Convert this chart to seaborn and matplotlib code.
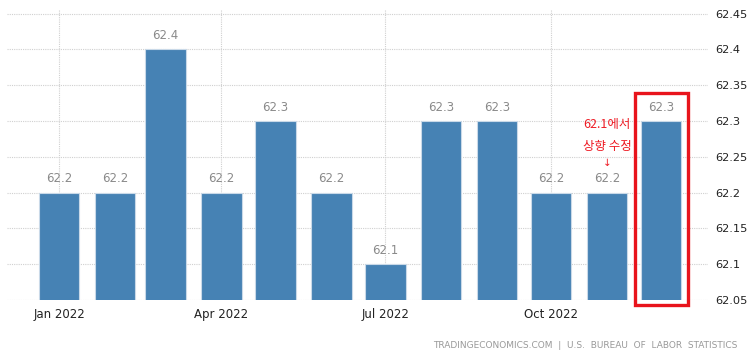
import matplotlib
matplotlib.use("Agg")
import matplotlib.pyplot as plt
import matplotlib.dates as mdates
from matplotlib.patches import Rectangle
import seaborn as sns
import pandas as pd
import datetime as dt

months = ["2022-01-01", "2022-02-01", "2022-03-01", "2022-04-01", "2022-05-01", "2022-06-01",
          "2022-07-01", "2022-08-01", "2022-09-01", "2022-10-01", "2022-11-01", "2022-12-01"]
values = [62.2, 62.2, 62.4, 62.2, 62.3, 62.2, 62.1, 62.3, 62.3, 62.2, 62.2, 62.3]
xtick_dates = ["2022-01-01", "2022-04-01", "2022-07-01", "2022-10-01"]
xtick_labels = ["Jan 2022", "Apr 2022", "Jul 2022", "Oct 2022"]
yticks = [62.05, 62.1, 62.15, 62.2, 62.25, 62.3, 62.35, 62.4, 62.45]
ytick_labels = ["62.05", "62.1", "62.15", "62.2", "62.25", "62.3", "62.35", "62.4", "62.45"]
note_lines = ["62.1에서", "상향 수정"]
footer = "TRADINGECONOMICS.COM  |  U.S.  BUREAU  OF  LABOR  STATISTICS"

sns.set_theme(style="white")
plt.rcParams["font.family"] = ["DejaVu Sans", "Noto Sans CJK KR"]

xnum = [mdates.date2num(dt.datetime.fromisoformat(m)) for m in months]
df = pd.DataFrame({"x": xnum, "v": values})

fig = plt.figure(figsize=(7.52, 3.55), dpi=100)
ax = fig.add_axes([7 / 752, 1 - 300 / 355, (708 - 7) / 752, (300 - 10) / 355])

sns.barplot(data=df, x="x", y="v", native_scale=True, color="#4682B4", saturation=1,
            width=0.8, edgecolor="#c9d9e8", linewidth=0.8, ax=ax, zorder=2)

ax.set_ylim(62.05, 62.455)
x0 = mdates.date2num(dt.datetime(2021, 12, 3))
x1 = mdates.date2num(dt.datetime(2022, 12, 27))
ax.set_xlim(x0, x1)

ax.set_yticks(yticks)
ax.set_yticklabels(ytick_labels)
ax.yaxis.tick_right()
tx = [mdates.date2num(dt.datetime.fromisoformat(d)) for d in xtick_dates]
ax.set_xticks(tx)
ax.set_xticklabels(xtick_labels)
ax.tick_params(axis="x", length=0, labelsize=8.5, colors="#222222", pad=6)
ax.tick_params(axis="y", length=0, labelsize=8.2, colors="#222222", pad=5)
ax.set_xlabel("")
ax.set_ylabel("")
for s in ax.spines.values():
    s.set_visible(False)
ax.grid(True, axis="both", color="#d0d0d0", linestyle=(0, (1, 1)), linewidth=0.8, zorder=0)
ax.set_axisbelow(True)

for x, v in zip(xnum, values):
    ax.text(x, v + 0.01, f"{v:.1f}", ha="center", va="bottom", fontsize=8.5, color="#8a8a8a")

# annotation near November bar
nov_x, nov_v = xnum[10], values[10]
ax.text(nov_x, nov_v + 0.095, note_lines[0], ha="center", va="center", fontsize=9,
        color="#ee1c25", family=["Noto Sans CJK KR", "DejaVu Sans"])
ax.text(nov_x, nov_v + 0.064, note_lines[1], ha="center", va="center", fontsize=9,
        color="#ee1c25", family=["Noto Sans CJK KR", "DejaVu Sans"])
ax.text(nov_x, nov_v + 0.042, "↓", ha="center", va="center", fontsize=7.5,
        color="#ee1c25", family=["DejaVu Sans"])

# red box around December bar
dec_x, dec_v = xnum[11], values[11]
half = 14.7
rect = Rectangle((dec_x - half, 62.043), 2 * half, dec_v + 0.039 - 62.043,
                 fill=False, edgecolor="#e8141c", linewidth=2.4, clip_on=False, zorder=5)
ax.add_patch(rect)

fig.text(737 / 752, 1 - 345 / 355, footer, ha="right", va="center", fontsize=6.5, color="#999999")

fig.savefig("out.png", dpi=100)
